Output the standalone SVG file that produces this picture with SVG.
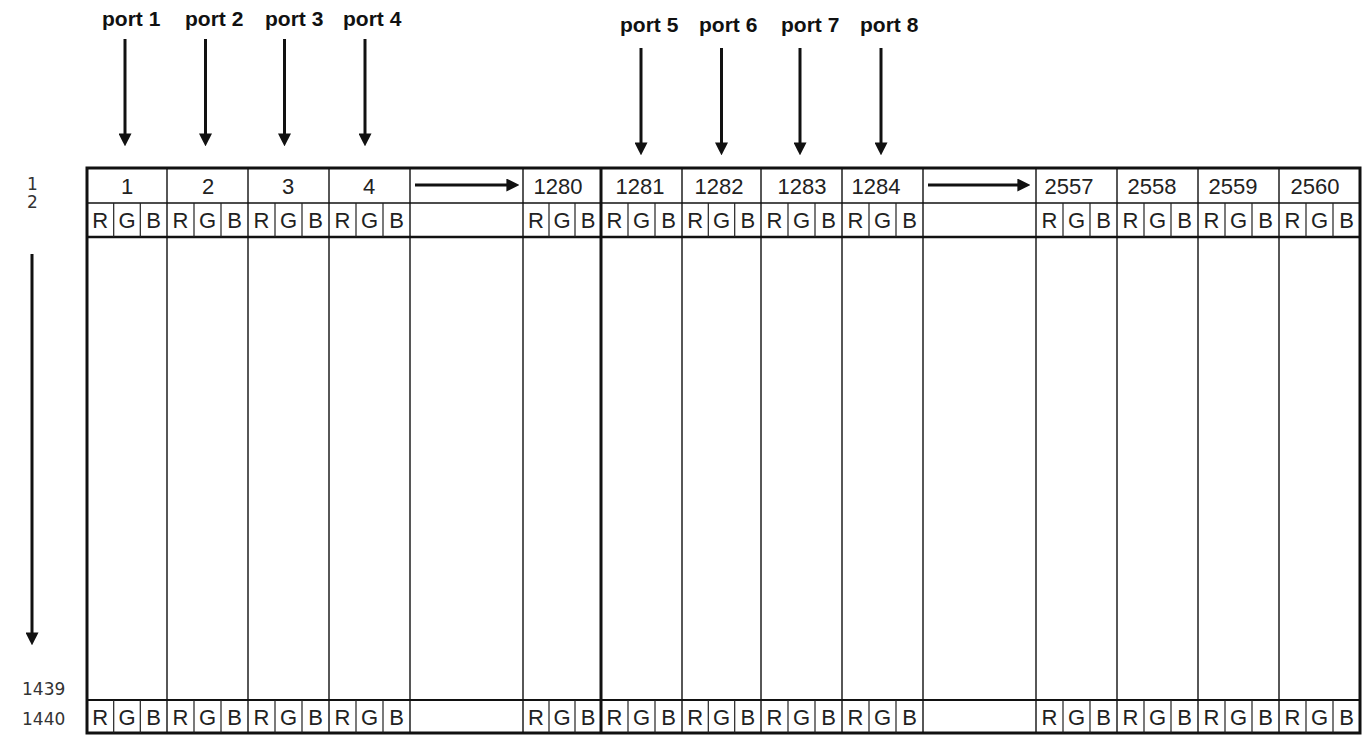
<svg xmlns="http://www.w3.org/2000/svg" width="1370" height="735" viewBox="0 0 1370 735">
<defs>
<marker id="ah" viewBox="0 0 10 10" refX="2" refY="5" markerWidth="13" markerHeight="13" markerUnits="userSpaceOnUse" orient="auto">
<path d="M0,0 L10,5 L0,10 z" fill="#111"/>
</marker>
</defs>
<style>
.port{font-family:"Liberation Sans",Arial,sans-serif;font-weight:bold;font-size:21px;fill:#111}
.num{font-family:"Liberation Sans",Arial,sans-serif;font-size:22px;fill:#222;text-anchor:middle}
.rgb{font-family:"Liberation Sans",Arial,sans-serif;font-size:22px;fill:#222;text-anchor:middle}
.row{font-family:"DejaVu Sans",sans-serif;font-size:17px;fill:#333}
.arr{stroke:#111;stroke-width:3;fill:none;marker-end:url(#ah)}
.thick{stroke:#111;stroke-width:3;fill:none}
.col{stroke:#111;stroke-width:1.4;fill:none}
.sub{stroke:#222;stroke-width:1.2;fill:none}
</style>
<rect width="1370" height="735" fill="#fff"/>

<g id="port-labels">
<text class="port" x="102" y="26">port 1</text>
<text class="port" x="185" y="26">port 2</text>
<text class="port" x="265" y="26">port 3</text>
<text class="port" x="343" y="26">port 4</text>
<text class="port" x="620" y="32">port 5</text>
<text class="port" x="699" y="32">port 6</text>
<text class="port" x="781" y="32">port 7</text>
<text class="port" x="860" y="32">port 8</text>
</g>

<g id="row-labels">
<text class="row" x="27" y="190">1</text>
<text class="row" x="27" y="208">2</text>
<text class="row" x="22" y="695">1439</text>
<text class="row" x="22" y="725">1440</text>
</g>

<g id="grid">
<rect x="87" y="168" width="1273" height="565" class="thick"/>
<line x1="601" y1="168" x2="601" y2="733" class="thick"/>
<line x1="87" y1="203" x2="1360" y2="203" stroke="#111" stroke-width="1.6"/>
<line x1="87" y1="237" x2="1360" y2="237" stroke="#111" stroke-width="2.5"/>
<line x1="87" y1="700" x2="1360" y2="700" stroke="#111" stroke-width="2"/>
<path class="col" d="M167,168V733 M248,168V733 M329,168V733 M410,168V733 M523,168V733 M682,168V733 M761,168V733 M842,168V733 M923,168V733 M1036,168V733 M1117,168V733 M1198,168V733 M1279,168V733"/>
<path id="sub-top" class="sub" d="M113.7,203V237 M140.3,203V237 M194,203V237 M221,203V237 M275,203V237 M302,203V237 M356,203V237 M383,203V237 M549,203V237 M575,203V237 M628,203V237 M655,203V237 M708.3,203V237 M734.7,203V237 M788,203V237 M815,203V237 M869,203V237 M896,203V237 M1063,203V237 M1090,203V237 M1144,203V237 M1171,203V237 M1225,203V237 M1252,203V237 M1306,203V237 M1333,203V237"/>
<path id="sub-bottom" class="sub" d="M113.7,700V733 M140.3,700V733 M194,700V733 M221,700V733 M275,700V733 M302,700V733 M356,700V733 M383,700V733 M549,700V733 M575,700V733 M628,700V733 M655,700V733 M708.3,700V733 M734.7,700V733 M788,700V733 M815,700V733 M869,700V733 M896,700V733 M1063,700V733 M1090,700V733 M1144,700V733 M1171,700V733 M1225,700V733 M1252,700V733 M1306,700V733 M1333,700V733"/>
</g>

<g id="pixel-numbers">
<text class="num" x="127" y="194">1</text>
<text class="num" x="208" y="194">2</text>
<text class="num" x="288" y="194">3</text>
<text class="num" x="369" y="194">4</text>
<text class="num" x="558" y="194">1280</text>
<text class="num" x="640" y="194">1281</text>
<text class="num" x="719" y="194">1282</text>
<text class="num" x="802" y="194">1283</text>
<text class="num" x="876" y="194">1284</text>
<text class="num" x="1069" y="194">2557</text>
<text class="num" x="1152" y="194">2558</text>
<text class="num" x="1233" y="194">2559</text>
<text class="num" x="1315" y="194">2560</text>
</g>

<g id="rgb-row-2">
<text class="rgb" y="228"><tspan x="100.3">R</tspan><tspan x="127">G</tspan><tspan x="153.7">B</tspan><tspan x="180.5">R</tspan><tspan x="207.5">G</tspan><tspan x="234.5">B</tspan><tspan x="261.5">R</tspan><tspan x="288.5">G</tspan><tspan x="315.5">B</tspan><tspan x="342.5">R</tspan><tspan x="369.5">G</tspan><tspan x="396.5">B</tspan><tspan x="536">R</tspan><tspan x="562">G</tspan><tspan x="588">B</tspan><tspan x="614.5">R</tspan><tspan x="641.5">G</tspan><tspan x="668.5">B</tspan><tspan x="695.2">R</tspan><tspan x="721.5">G</tspan><tspan x="747.8">B</tspan><tspan x="774.5">R</tspan><tspan x="801.5">G</tspan><tspan x="828.5">B</tspan><tspan x="855.5">R</tspan><tspan x="882.5">G</tspan><tspan x="909.5">B</tspan><tspan x="1049.5">R</tspan><tspan x="1076.5">G</tspan><tspan x="1103.5">B</tspan><tspan x="1130.5">R</tspan><tspan x="1157.5">G</tspan><tspan x="1184.5">B</tspan><tspan x="1211.5">R</tspan><tspan x="1238.5">G</tspan><tspan x="1265.5">B</tspan><tspan x="1292.5">R</tspan><tspan x="1319.5">G</tspan><tspan x="1346.5">B</tspan></text>
</g>

<g id="rgb-row-1440">
<text class="rgb" y="725"><tspan x="100.3">R</tspan><tspan x="127">G</tspan><tspan x="153.7">B</tspan><tspan x="180.5">R</tspan><tspan x="207.5">G</tspan><tspan x="234.5">B</tspan><tspan x="261.5">R</tspan><tspan x="288.5">G</tspan><tspan x="315.5">B</tspan><tspan x="342.5">R</tspan><tspan x="369.5">G</tspan><tspan x="396.5">B</tspan><tspan x="536">R</tspan><tspan x="562">G</tspan><tspan x="588">B</tspan><tspan x="614.5">R</tspan><tspan x="641.5">G</tspan><tspan x="668.5">B</tspan><tspan x="695.2">R</tspan><tspan x="721.5">G</tspan><tspan x="747.8">B</tspan><tspan x="774.5">R</tspan><tspan x="801.5">G</tspan><tspan x="828.5">B</tspan><tspan x="855.5">R</tspan><tspan x="882.5">G</tspan><tspan x="909.5">B</tspan><tspan x="1049.5">R</tspan><tspan x="1076.5">G</tspan><tspan x="1103.5">B</tspan><tspan x="1130.5">R</tspan><tspan x="1157.5">G</tspan><tspan x="1184.5">B</tspan><tspan x="1211.5">R</tspan><tspan x="1238.5">G</tspan><tspan x="1265.5">B</tspan><tspan x="1292.5">R</tspan><tspan x="1319.5">G</tspan><tspan x="1346.5">B</tspan></text>
</g>

<g id="connectors">
<line class="arr" x1="125" y1="39" x2="125" y2="136"/>
<line class="arr" x1="205.5" y1="39" x2="205.5" y2="136"/>
<line class="arr" x1="284.5" y1="39" x2="284.5" y2="136"/>
<line class="arr" x1="365" y1="39" x2="365" y2="136"/>
<line class="arr" x1="641" y1="48" x2="641" y2="145"/>
<line class="arr" x1="721.5" y1="48" x2="721.5" y2="145"/>
<line class="arr" x1="800" y1="48" x2="800" y2="145"/>
<line class="arr" x1="881" y1="48" x2="881" y2="145"/>
<line class="arr" x1="32" y1="254" x2="32" y2="635"/>
<line class="arr" x1="415" y1="185" x2="509" y2="185"/>
<line class="arr" x1="928" y1="185" x2="1020" y2="185"/>
</g>
</svg>
